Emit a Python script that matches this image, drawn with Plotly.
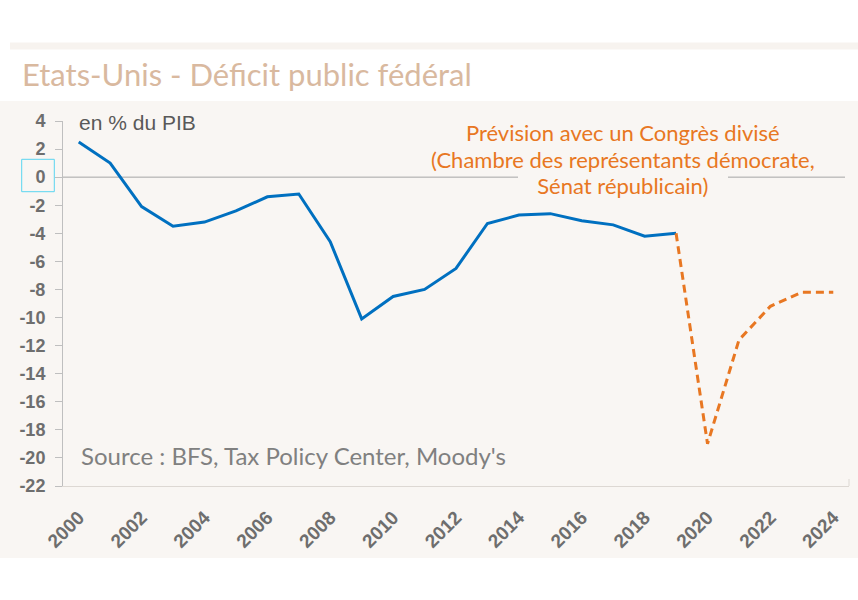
import plotly.graph_objects as go

# ---- data ----
years_hist = list(range(2000, 2020))
deficit_hist = [2.5, 1.0, -2.1, -3.5, -3.2, -2.4, -1.4, -1.2, -4.6, -10.1,
                -8.5, -8.0, -6.5, -3.3, -2.7, -2.6, -3.1, -3.4, -4.2, -4.0]
years_fcst = [2019, 2020, 2021, 2022, 2023, 2024]
deficit_fcst = [-4.0, -19.0, -11.6, -9.2, -8.2, -8.2]
x_ticks = list(range(2000, 2025, 2))
y_ticks = list(range(-22, 5, 2))

title_text = "Etats-Unis - Déficit public fédéral"
unit_text = "en % du PIB"
source_text = "Source : BFS, Tax Policy Center, Moody's"
note_lines = ["Prévision avec un Congrès divisé",
              "(Chambre des représentants démocrate,",
              "Sénat républicain)"]

W, H = 858, 600
L, R, T, B = 63, 849, 121, 486  # plot area in pixels

def px(x):
    return (x - L) / (R - L)

def py(y):
    return (B - y) / (B - T)

BEIGE = "#F9F6F3"
BLUE = "#0070C0"
ORANGE = "#E87722"
HUMANIST = "Lato, 'Noto Sans', sans-serif"
ARIAL = "'Liberation Sans', Arial, sans-serif"

fig = go.Figure()
fig.add_trace(go.Scatter(x=years_hist, y=deficit_hist, mode="lines",
                         line=dict(color=BLUE, width=3), hoverinfo="skip"))
fig.add_trace(go.Scatter(x=years_fcst, y=deficit_fcst, mode="lines",
                         line=dict(color=ORANGE, width=3, dash="8px,5px"),
                         hoverinfo="skip"))

shapes = [
    dict(type="rect", xref="paper", yref="paper", layer="below",
         x0=px(0), x1=px(W), y0=py(558), y1=py(101),
         fillcolor=BEIGE, line=dict(width=0)),
    dict(type="rect", xref="paper", yref="paper", layer="below",
         x0=px(10), x1=px(W), y0=py(49.5), y1=py(42.5),
         fillcolor="#F7F3EF", line=dict(width=0)),
    # zero line, interrupted behind the last line of the note
    dict(type="line", xref="paper", yref="y", layer="below",
         x0=0, x1=px(518), y0=0, y1=0,
         line=dict(color="#A6A6A6", width=1)),
    dict(type="line", xref="paper", yref="y", layer="below",
         x0=px(728), x1=px(845), y0=0, y1=0,
         line=dict(color="#A6A6A6", width=1)),
    dict(type="line", xref="paper", yref="paper", layer="below",
         x0=1, x1=1, y0=0, y1=py(479),
         line=dict(color="#DDD8D3", width=1)),
    dict(type="rect", xref="paper", yref="paper",
         x0=px(21.7), x1=px(54.3), y0=py(191.7), y1=py(159.3),
         line=dict(color="#5BD5F0", width=1)),
]

note_html = "<br>".join('<span style="font-size:22px">%s</span>' % t
                        for t in note_lines)

annotations = [
    dict(text=title_text, xref="paper", yref="paper", x=px(20), y=py(74),
         xanchor="left", yanchor="middle", showarrow=False,
         font=dict(family=HUMANIST, size=31, color="#D9B99F")),
    dict(text=unit_text, xref="paper", yref="paper", x=px(77), y=py(122),
         xanchor="left", yanchor="middle", showarrow=False,
         font=dict(family=ARIAL, size=21, color="#595959")),
    dict(text=source_text, xref="paper", yref="paper", x=px(79), y=py(455),
         xanchor="left", yanchor="middle", showarrow=False,
         font=dict(family=HUMANIST, size=24, color="#808080")),
    dict(text=note_html, xref="paper", yref="paper",
         x=px(623), y=py(159), xanchor="center", yanchor="middle",
         align="center", showarrow=False,
         font=dict(family=HUMANIST, size=20.5, color=ORANGE)),
]

fig.update_layout(
    width=W, height=H,
    margin=dict(l=L, r=W - R, t=T, b=H - B),
    paper_bgcolor="white",
    plot_bgcolor="rgba(0,0,0,0)",
    showlegend=False,
    shapes=shapes,
    annotations=annotations,
    xaxis=dict(range=[1999.5, 2024.5], tickvals=x_ticks,
               ticktext=[str(v) for v in x_ticks], tickangle=-45,
               showgrid=False, zeroline=False, showline=True,
               linecolor="#DDD8D3", linewidth=1, ticks="",
               ticklabelstandoff=12,
               tickfont=dict(family=ARIAL, size=19, color="#6E6E6E",
                             weight="bold")),
    yaxis=dict(range=[-22, 4], tickvals=y_ticks,
               ticktext=[str(v) for v in y_ticks],
               showgrid=False, zeroline=False, showline=True,
               linecolor="#BFBFBF", linewidth=1, ticks="outside",
               ticklen=7, tickcolor="#BFBFBF", ticklabelstandoff=6,
               tickfont=dict(family=ARIAL, size=18, color="#6E6E6E",
                             weight="bold")),
)

fig.write_html("out.html", config={"displayModeBar": False},
               post_script="document.body.style.margin='0';")
